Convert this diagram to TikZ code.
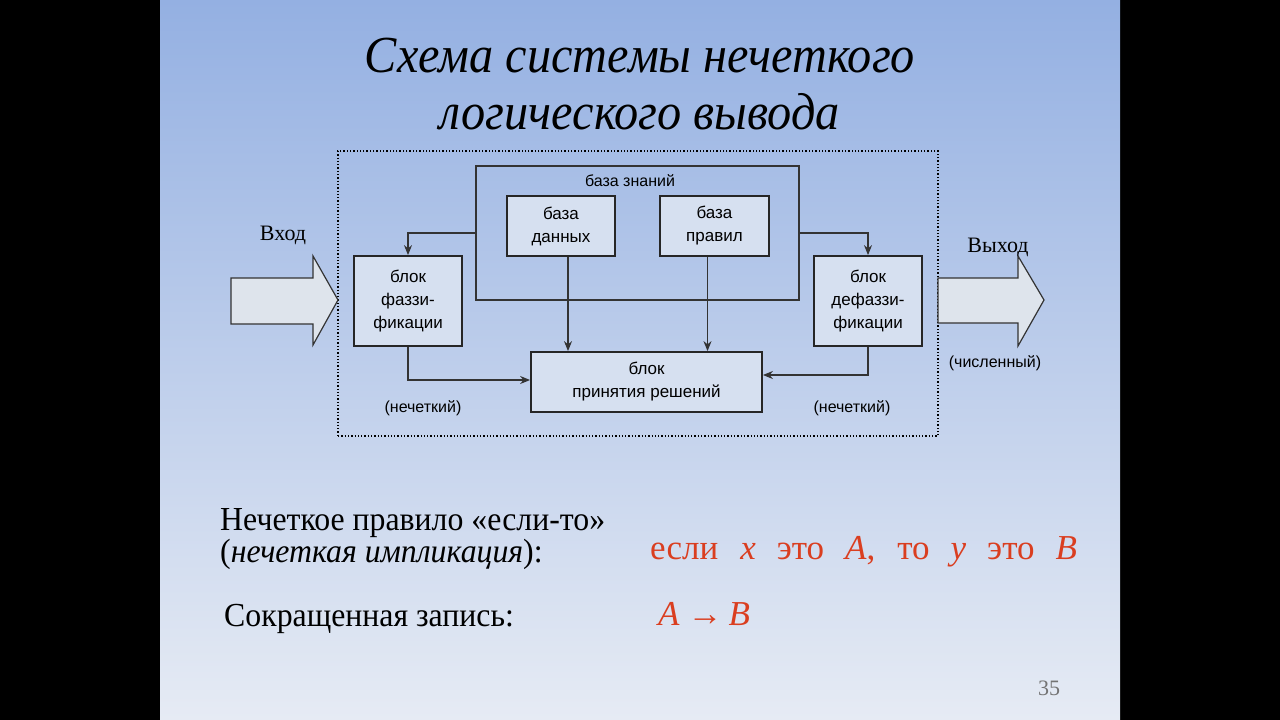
\documentclass[tikz,border=0pt]{standalone}
\usepackage{fontspec}
\setmainfont{Liberation Serif}
\newfontfamily\boxfont{Liberation Sans}
\usepackage{xcolor}
\usetikzlibrary{arrows.meta,calc}

\definecolor{slidetop}{RGB}{148,176,226}
\definecolor{slidebot}{RGB}{230,235,244}
\definecolor{boxfill}{RGB}{214,224,240}
\definecolor{arrowfill}{RGB}{222,228,236}
\definecolor{rulered}{RGB}{218,62,32}

\begin{document}
\begin{tikzpicture}[
  x=1pt,y=-1pt,
  blk/.style={draw=black!85,line width=1.8pt,fill=boxfill,align=center,inner sep=0pt,
    font=\boxfont\fontsize{17}{23}\selectfont},
  small/.style={font=\boxfont\fontsize{16}{20}\selectfont},
  line/.style={draw=black!80,line width=1.2pt,-{Stealth[length=10pt,width=8pt]}},
  bigarrow/.style={draw=black!80,line width=1.2pt,fill=arrowfill},
  serif/.style={font=\fontsize{22}{26}\selectfont}
]
% slide background
\fill[black] (0,0) rectangle (1280,720);
\shade[top color=slidetop,bottom color=slidebot] (160,0) rectangle (1120,720);

% title
\node[font=\itshape\fontsize{46}{57}\selectfont,align=center] (title) at (640,84)
  {\scalebox{1.05}[1.13]{Схема системы нечеткого}\\\scalebox{1.05}[1.13]{логического вывода}};

% blocks
\node[draw,dotted,line width=1.3pt,minimum width=600pt,minimum height=285pt] (frame) at (638,293.5) {};
\node[draw=black!80,line width=1.4pt,minimum width=323pt,minimum height=134pt] (kb) at (637.5,233) {};
\node[small] (kblabel) at (630,181) {база знаний};
\node[blk,minimum width=108pt,minimum height=60pt] (db) at (561,226) {база\\данных};
\node[blk,minimum width=109pt,minimum height=60pt] (rules) at (714.5,226) {база\\правил};
\node[blk,minimum width=108pt,minimum height=90pt] (fuzz) at (408,301) {блок\\фаззи-\\фикации};
\node[blk,minimum width=108pt,minimum height=90pt] (defuzz) at (868,301) {блок\\дефаззи-\\фикации};
\node[blk,minimum width=231pt,minimum height=60pt] (dec) at (646.5,382) {блок\\принятия решений};

\draw[line] (kb.west) -| (fuzz.north);
\draw[line] (kb.east) -| (defuzz.north);
\draw[line] ([xshift=7pt]db.south) -- ([xshift=7pt]db.south |- dec.north);
\draw[line] ([xshift=-7pt]rules.south) -- ([xshift=-7pt]rules.south |- dec.north);
\draw[line] (fuzz.south) |- ([yshift=2pt]dec.west);
\draw[line] (defuzz.south) |- ([yshift=7pt]dec.east);

\node[small] (fuzzy1) at (423,408) {(нечеткий)};
\node[small] (fuzzy2) at (852,408) {(нечеткий)};

% input / output arrows
\draw[bigarrow] (231,278) -- (313,278) -- (313,256) -- (338,300) -- (313,345) -- (313,324) -- (231,324) -- cycle;
\draw[bigarrow] (938,278) -- (1018,278) -- (1018,256) -- (1044,300) -- (1018,346) -- (1018,323) -- (938,323) -- cycle;
\node[serif] (input) at (283,235) {Вход};
\node[serif] (output) at (998,247) {Выход};
\node[small] (numeric) at (995,363) {(численный)};

% rule text
\node[font=\fontsize{30}{29}\selectfont,anchor=west,align=left,inner sep=0pt] (rule) at (220,539)
  {\scalebox{1.06}[1.12]{Нечеткое правило «если-то»}\\\scalebox{1.06}[1.12]{(\textit{нечеткая импликация}):}};
\node[font=\fontsize{35}{35}\selectfont,anchor=west,text=rulered,inner sep=0pt] (ifthen) at (650,552)
  {если\hspace{22pt}\textit{x}\hspace{21pt}это\hspace{21pt}\textit{A},\hspace{22pt}то\hspace{21pt}\textit{y}\hspace{21pt}это\hspace{21pt}\textit{B}};
\node[font=\fontsize{30}{30}\selectfont,anchor=west,inner sep=0pt] (short) at (224,619)
  {\scalebox{1.06}[1.12]{Сокращенная запись:}};
\node[font=\fontsize{35}{35}\selectfont,anchor=west,text=rulered,inner sep=0pt] (imp) at (658,614)
  {\textit{A}\hspace{8pt}→\hspace{6pt}\textit{B}};
\node[font=\fontsize{22}{22}\selectfont,text=black!55] (page) at (1049,688) {35};
\end{tikzpicture}
\end{document}
